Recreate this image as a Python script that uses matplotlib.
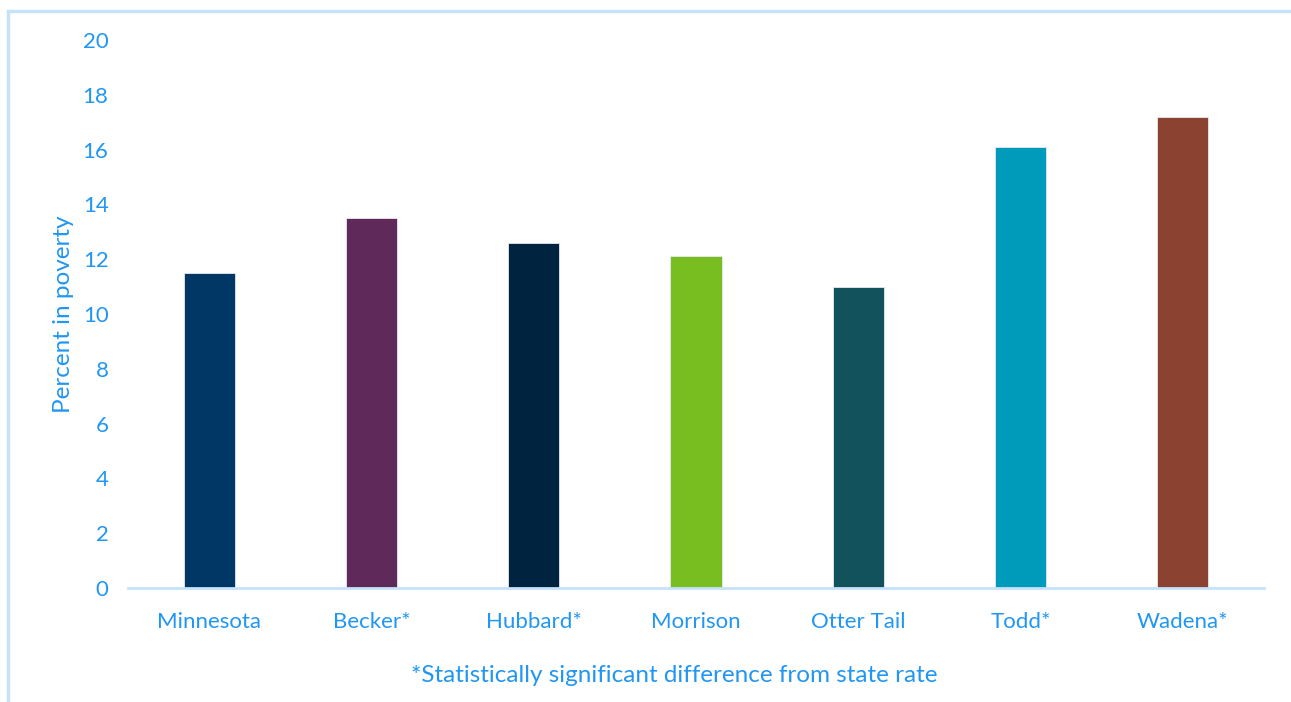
import matplotlib
matplotlib.use("Agg")
import matplotlib.pyplot as plt
from matplotlib.patches import Rectangle

# Poverty rates by area
areas = ["Minnesota", "Becker*", "Hubbard*", "Morrison", "Otter Tail", "Todd*", "Wadena*"]
poverty_pct = [11.5, 13.5, 12.6, 12.1, 11.0, 16.1, 17.2]
bar_colors = ["#003764", "#5F2A5A", "#00243F", "#78BE21", "#12525C", "#009BBB", "#8B4230"]
y_ticks = [0, 2, 4, 6, 8, 10, 12, 14, 16, 18, 20]

text_blue = "#2196F3"
line_blue = "#C5E2FA"
font = ["Lato", "DejaVu Sans"]

fig = plt.figure(figsize=(12.91, 7.02), dpi=100)
fig.patch.set_facecolor("white")

# outer chart frame
fig.add_artist(Rectangle((8 / 1291, -0.05), 1.2, 1 - 11 / 702 + 0.05,
                         transform=fig.transFigure, fill=False,
                         edgecolor=line_blue, linewidth=2.5))

ax = fig.add_axes([128 / 1291, 1 - 588 / 702, (1264 - 128) / 1291, (588 - 40) / 702])
x = range(len(areas))
ax.bar(x, poverty_pct, width=0.315, color=bar_colors, edgecolor="#E8E8F0", linewidth=0.6, zorder=2)

ax.set_ylim(0, 20)
ax.set_xlim(-0.5, len(areas) - 0.5)
ax.set_yticks(y_ticks)
ax.set_yticklabels([str(v) for v in y_ticks], fontsize=16, color=text_blue, family=font)
ax.set_xticks(list(x))
ax.set_xticklabels(areas, fontsize=16, color=text_blue, family=font)
ax.tick_params(axis="both", length=0)
ax.tick_params(axis="y", pad=14)
ax.tick_params(axis="x", pad=17)

for side in ["top", "right", "left"]:
    ax.spines[side].set_visible(False)
ax.spines["bottom"].set_color(line_blue)
ax.spines["bottom"].set_linewidth(2)

ax.set_ylabel("Percent in poverty", fontsize=17.5, color=text_blue, family=font, labelpad=6)
ax.set_xlabel("*Statistically significant difference from state rate", fontsize=17.5,
              color=text_blue, family=font, labelpad=24)
ax.xaxis.set_label_coords(0.481, -0.14)

fig.savefig("out.png", dpi=100, facecolor="white")
